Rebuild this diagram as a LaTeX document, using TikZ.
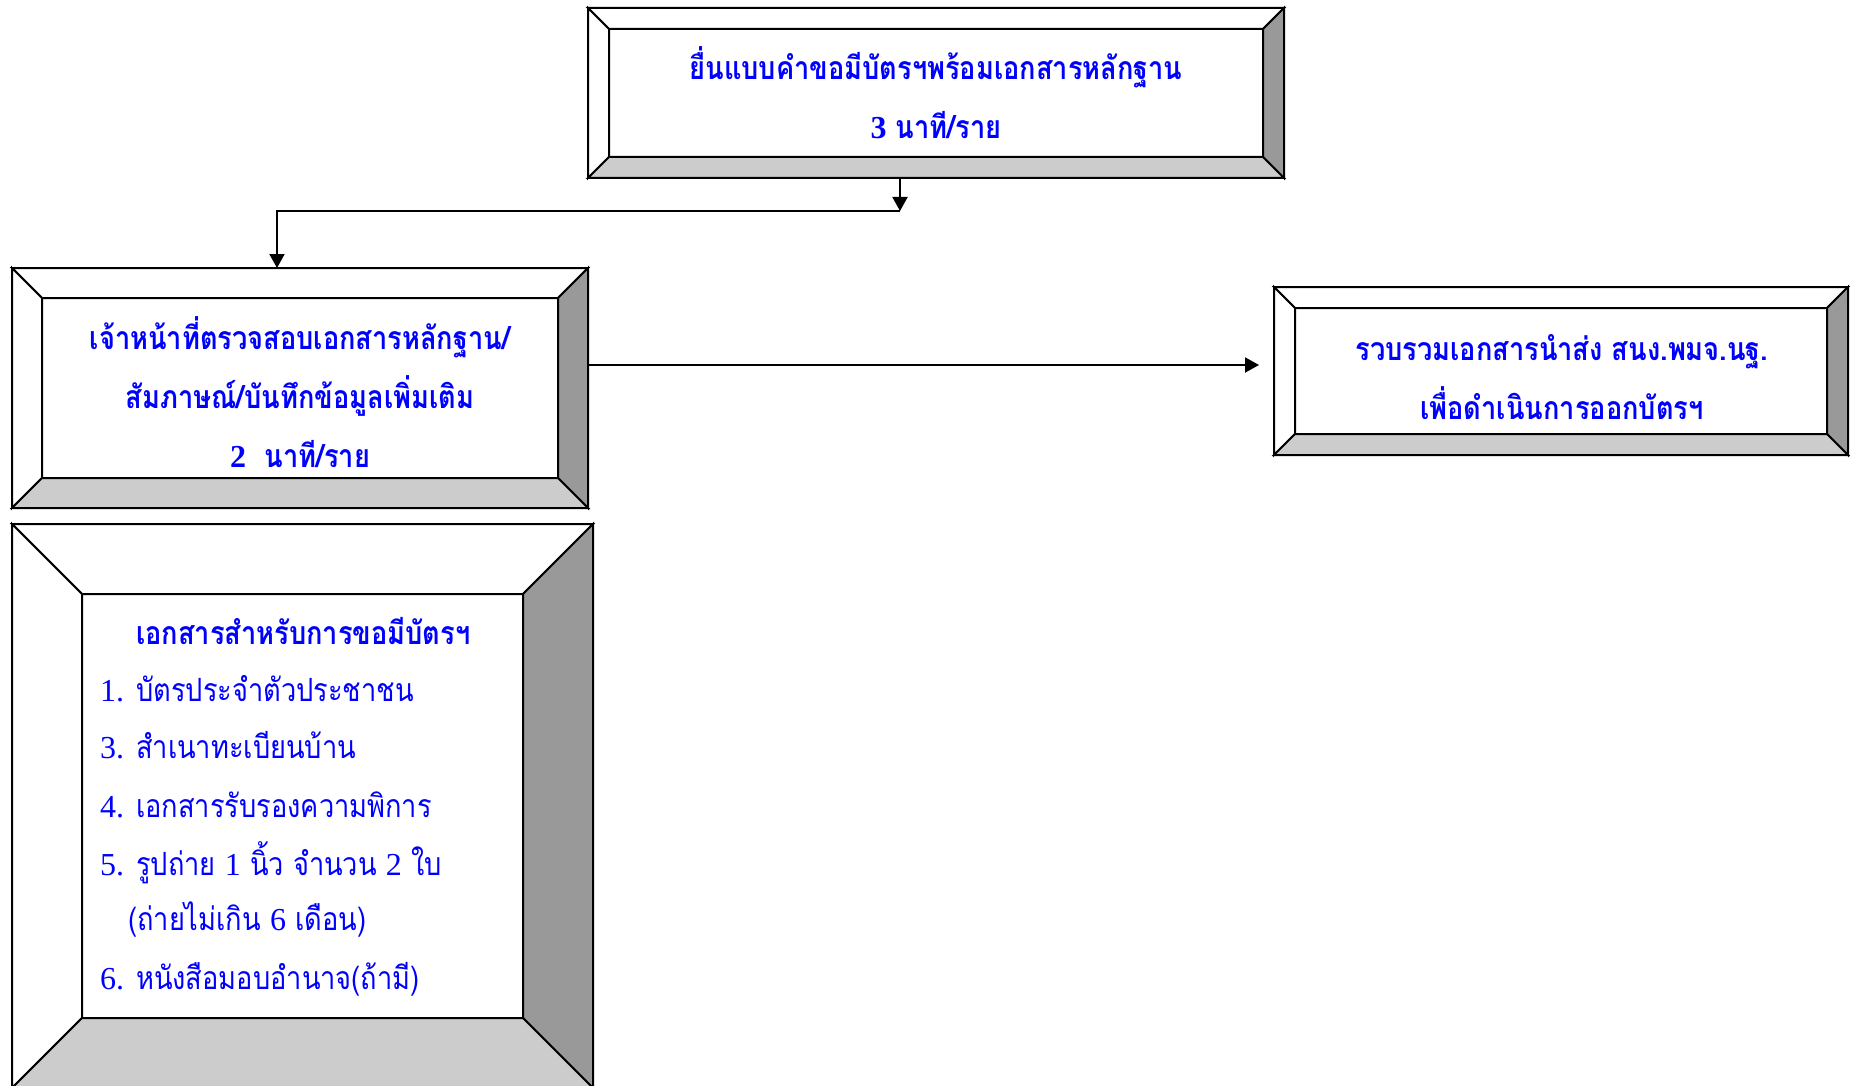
\documentclass[tikz,border=0pt]{standalone}
\usepackage{fontspec}
\setmainfont{Liberation Serif}
\newfontfamily\thaifont[Script=Thai,FakeStretch=0.85]{Loma}
\usetikzlibrary{calc,arrows.meta}

\definecolor{docblue}{rgb}{0,0,1}
\definecolor{bevelside}{gray}{0.6}
\definecolor{bevelbase}{gray}{0.8}

\tikzset{
  bevelbox/.style={rectangle, inner sep=0pt, outer sep=0pt},
  bevelline/.style={draw=black, line width=2pt},
  boxtext/.style={text=docblue, align=center, inner sep=0pt, font=\thaifont\bfseries\fontsize{32}{59}\selectfont},
  listtext/.style={text=docblue, anchor=base west, inner sep=0pt, font=\thaifont\fontsize{32}{58}\selectfont},
  flow/.style={line width=2pt, -{Triangle[length=14pt,width=15pt]}}
}

% bevel faces round a named box: #1 node, #2 depth
\newcommand\drawbevel[2]{%
  \filldraw[bevelline, fill=white] (#1.north west) -- (#1.north east) -- ($(#1.north east)+(-#2,#2)$) -- ($(#1.north west)+(#2,#2)$) -- cycle;
  \filldraw[bevelline, fill=white] (#1.north west) -- (#1.south west) -- ($(#1.south west)+(#2,-#2)$) -- ($(#1.north west)+(#2,#2)$) -- cycle;
  \filldraw[bevelline, fill=bevelside] (#1.north east) -- (#1.south east) -- ($(#1.south east)+(-#2,-#2)$) -- ($(#1.north east)+(-#2,#2)$) -- cycle;
  \filldraw[bevelline, fill=bevelbase] (#1.south west) -- (#1.south east) -- ($(#1.south east)+(-#2,-#2)$) -- ($(#1.south west)+(#2,-#2)$) -- cycle;
}
\newcommand\listno[1]{\makebox[36pt][l]{\rmfamily #1}}
\newcommand\latn[1]{{\rmfamily #1}}

\begin{document}
\begin{tikzpicture}[x=1pt, y=-1pt]
    \useasboundingbox (0,0) rectangle (1852,1086);

    % boxes
    \node[bevelbox, minimum width=696pt, minimum height=170pt] (submit) at (936,93) {};
    \node[bevelbox, minimum width=576pt, minimum height=240pt] (officer) at (300,388) {};
    \node[bevelbox, minimum width=574pt, minimum height=168pt] (forward) at (1561,371) {};
    \node[bevelbox, minimum width=581pt, minimum height=564pt] (documents) at (302.5,806) {};
    \drawbevel{submit}{21}
    \drawbevel{officer}{30}
    \drawbevel{forward}{21}
    \drawbevel{documents}{70}

    % texts
    \node[boxtext] (submittext) at (936,93) {ยื่นแบบคำขอมีบัตรฯพร้อมเอกสารหลักฐาน\\\latn{3} นาที/ราย};
    \node[boxtext] (officertext) at (300,392) {เจ้าหน้าที่ตรวจสอบเอกสารหลักฐาน/\\สัมภาษณ์/บันทึกข้อมูลเพิ่มเติม\\\latn{2}~~นาที/ราย};
    \node[boxtext] (forwardtext) at (1562,377) {รวบรวมเอกสารนำส่ง สนง.พมจ.นฐ.\\เพื่อดำเนินการออกบัตรฯ};

    \node[listtext, font=\thaifont\bfseries\fontsize{32}{58}\selectfont] (dochead) at (136,644) {เอกสารสำหรับการขอมีบัตรฯ};
    \foreach \no/\doc/\y [count=\i] in {1./บัตรประจำตัวประชาชน/701, 3./สำเนาทะเบียนบ้าน/758, 4./เอกสารรับรองความพิการ/817, 5./รูปถ่าย \latn{1} นิ้ว จำนวน \latn{2} ใบ/875, 6./หนังสือมอบอำนาจ(ถ้ามี)/989}
        \node[listtext] (doc\i) at (100,\y) {\listno{\no}\doc};
    \node[listtext] (docnote) at (128,930) {(ถ่ายไม่เกิน \latn{6} เดือน)};

    % connectors
    \coordinate (split) at (900,211);
    \coordinate (turn) at (277,211);
    \coordinate (handoff) at (1259,365);
    \draw[flow] (submit.south -| split) -- (split);
    \draw[flow] (split) -- (turn) -- (turn |- officer.north);
    \draw[flow] (officer.east |- handoff) -- (handoff);
\end{tikzpicture}
\end{document}
